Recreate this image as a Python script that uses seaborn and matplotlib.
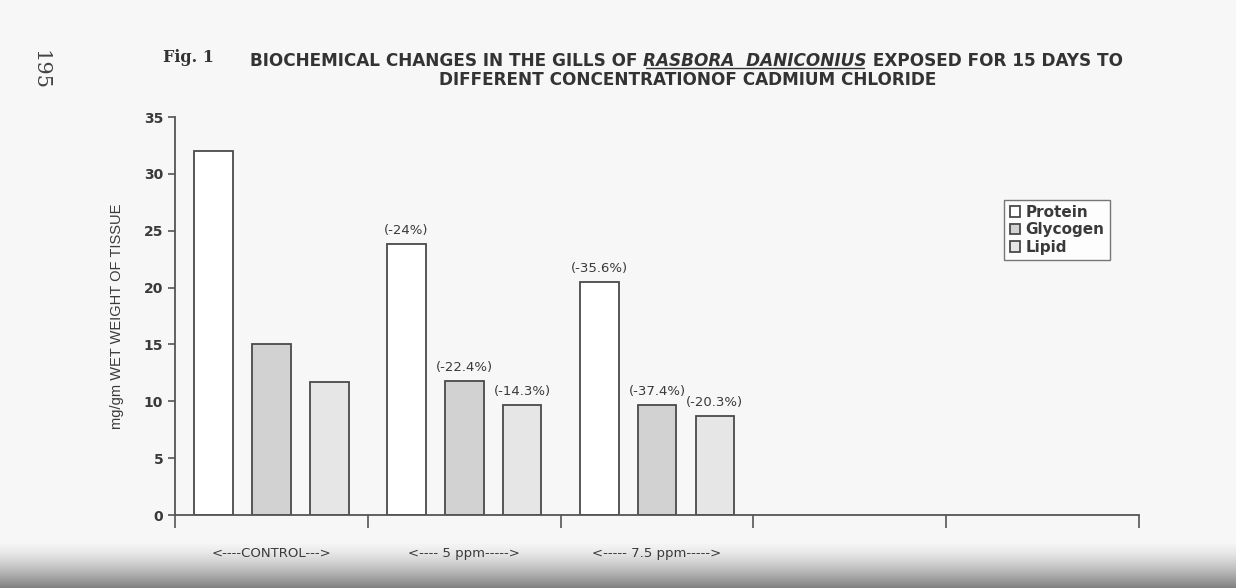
import numpy as np
import pandas as pd
import matplotlib.pyplot as plt
import seaborn as sns

# values
groups = ['CONTROL', '5 ppm', '7.5 ppm']
group_labels = ['<----CONTROL--->', '<---- 5 ppm----->', '<----- 7.5 ppm----->']
components = ['Protein', 'Glycogen', 'Lipid']
protein = [32.0, 23.8, 20.5]
glycogen = [15.0, 11.8, 9.7]
lipid = [11.7, 9.7, 8.7]
protein_change = ['', '(-24%)', '(-35.6%)']
glycogen_change = ['', '(-22.4%)', '(-37.4%)']
lipid_change = ['', '(-14.3%)', '(-20.3%)']

df = pd.DataFrame({
    'Group': groups * 3,
    'Component': [c for c in components for _ in groups],
    'Value': protein + glycogen + lipid,
})

sns.set_style('white')
plt.rcParams['font.family'] = ['Liberation Sans', 'DejaVu Sans']
ink = '#3a3a3a'
paper = '#f7f7f7'

fig = plt.figure(figsize=(12.36, 5.88), dpi=100, facecolor=paper)
ax = fig.add_axes([0.1416, 0.124, 0.78, 0.677], facecolor=paper)

colors = {'Protein': '#ffffff', 'Glycogen': '#d2d2d2', 'Lipid': '#e6e6e6'}
sns.barplot(data=df, x='Group', y='Value', hue='Component', order=groups,
            hue_order=components, palette=colors, width=0.9, gap=0.33,
            edgecolor='#4a4a4a', linewidth=1.3, ax=ax)

for cont, labs in zip(ax.containers, [protein_change, glycogen_change, lipid_change]):
    ax.bar_label(cont, labels=labs, padding=5, fontsize=9.5, color=ink,
                 family='DejaVu Sans')

ax.set_xlim(-0.5, 4.5)
ax.set_ylim(0, 35)
ax.set_yticks(range(0, 36, 5))
ax.set_xticks(np.arange(-0.5, 5, 1.0))
ax.set_xticklabels([''] * 6)
ax.set_xticks(range(len(groups)), minor=True)
ax.set_xticklabels(group_labels, minor=True, fontsize=9.5, color=ink,
                   family='DejaVu Sans')
ax.tick_params(bottom=True, left=True, which='both')
ax.tick_params(axis='x', which='major', direction='out', length=9, width=1.2, color='#555')
ax.tick_params(axis='x', which='minor', length=0, pad=23)
ax.tick_params(axis='y', direction='out', length=5, width=1.2, color='#555',
               labelsize=10, labelcolor=ink)
for t in ax.get_yticklabels():
    t.set_fontweight('bold')
    t.set_family('DejaVu Sans')
sns.despine(ax=ax)
for s in ['left', 'bottom']:
    ax.spines[s].set_color('#555')
    ax.spines[s].set_linewidth(1.3)
ax.set_xlabel('')
ax.set_ylabel('mg/gm WET WEIGHT OF TISSUE', fontsize=10.5, color=ink, labelpad=14)

leg = ax.legend(loc='upper right', bbox_to_anchor=(0.973, 0.8), frameon=True,
                fancybox=False, edgecolor='#555', facecolor='white',
                handlelength=0.7, handleheight=0.7, handletextpad=0.35,
                borderpad=0.35, borderaxespad=0.2, labelspacing=0.15,
                prop={'weight': 'bold', 'size': 11, 'family': 'DejaVu Sans'})
leg.get_frame().set_linewidth(1.0)
for t in leg.get_texts():
    t.set_color(ink)

# title, built in pieces so the species name can be italic and underlined
fig.text(163 / 1236, 1 - 62 / 588, 'Fig. 1', family='DejaVu Serif', weight='bold',
         fontsize=11.5, color='#333', va='baseline')
tstyle = dict(fontsize=12.2, weight='bold', color='#333', family='DejaVu Sans')
t1 = fig.text(250 / 1236, 1 - 66 / 588, 'BIOCHEMICAL CHANGES IN THE GILLS OF ', va='baseline', **tstyle)
t2 = fig.text(0, 0, 'RASBORA  DANICONIUS', style='italic', va='baseline', **tstyle)
t3 = fig.text(0, 0, ' EXPOSED FOR 15 DAYS TO', va='baseline', **tstyle)
fig.canvas.draw()
r = fig.canvas.get_renderer()
inv = fig.transFigure.inverted()
x = inv.transform(t1.get_window_extent(r).get_points())[1, 0]
y = t1.get_position()[1]
t2.set_position((x, y))
fig.canvas.draw()
bb2 = inv.transform(t2.get_window_extent(r).get_points())
t3.set_position((bb2[1, 0], y))
fig.add_artist(plt.Line2D([bb2[0, 0] + 0.002, bb2[1, 0] - 0.002], [y - 0.0035, y - 0.0035],
                          transform=fig.transFigure, color='#333', lw=1.0))
fig.text(688 / 1236, 1 - 85 / 588, 'DIFFERENT CONCENTRATIONOF CADMIUM CHLORIDE',
         ha='center', va='baseline', **tstyle)

# handwritten page number in the margin
fig.text(40 / 1236, 1 - 70 / 588, '195', rotation=-90, family='DejaVu Serif',
         fontsize=15, color='#444', ha='center', va='center')

# grey shadow along the bottom of the scan
gax = fig.add_axes([0, 0, 1, 0.08], zorder=-1)
grad = np.linspace(0, 1, 100)[:, None] ** 1.5
gax.imshow(grad, aspect='auto', cmap=sns.blend_palette([paper, '#808080'], as_cmap=True),
           extent=[0, 1, 0, 1], origin='upper')
gax.axis('off')

fig.savefig('out.png', dpi=100, facecolor=paper)
